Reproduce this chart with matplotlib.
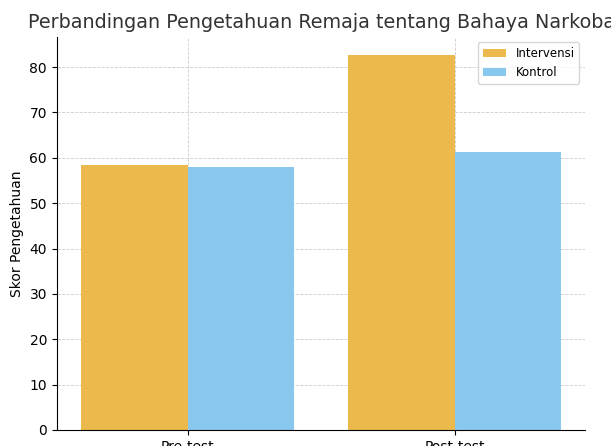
import matplotlib
matplotlib.use('Agg')
import matplotlib.pyplot as plt
import numpy as np

# Data
groups = ["Pre-test", "Post-test"]
intervensi = [58.4, 82.6]
kontrol = [58.0, 61.3]

fig, ax = plt.subplots(figsize=(6.11, 4.46), dpi=100)

x = np.arange(len(groups))
width = 0.4
ax.bar(x - width / 2, intervensi, width, color='#ECB94C', label='Intervensi', zorder=2)
ax.bar(x + width / 2, kontrol, width, color='#88C8EE', label='Kontrol', zorder=2)

ax.set_xticks(x)
ax.set_xticklabels(groups, fontsize=10)
ax.set_ylabel("Skor Pengetahuan", fontsize=10)
ax.set_title("Perbandingan Pengetahuan Remaja tentang Bahaya Narkoba", fontsize=13.8, color='#333333')

ax.grid(True, linestyle='--', linewidth=0.6, color='#cccccc', zorder=0)
ax.set_axisbelow(True)
ax.spines['top'].set_visible(False)
ax.spines['right'].set_visible(False)
ax.legend(loc='upper right', fontsize=8.5)

plt.subplots_adjust(left=0.093, right=0.958, top=0.918, bottom=0.036)
plt.savefig("out.png", dpi=100)
plt.close(fig)
